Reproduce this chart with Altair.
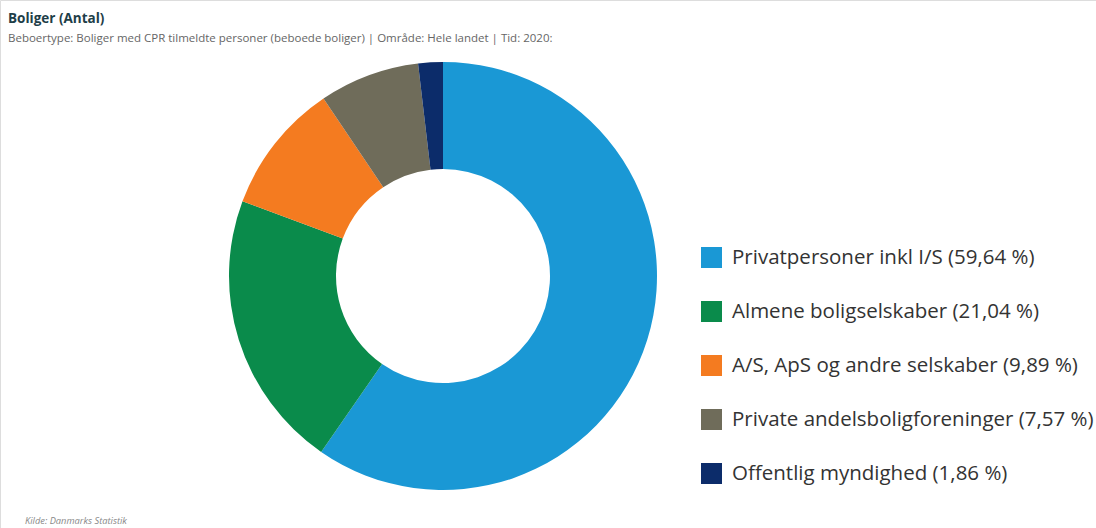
import altair as alt
import pandas as pd

categories = ["Privatpersoner inkl I/S", "Almene boligselskaber", "A/S, ApS og andre selskaber",
              "Private andelsboligforeninger", "Offentlig myndighed"]
percents = [59.64, 21.04, 9.89, 7.57, 1.86]
colors = ["#1A98D5", "#0A8B4B", "#F47B20", "#6F6C5A", "#0C2C6A"]

title = "Boliger (Antal)"
subtitle = "Beboertype: Boliger med CPR tilmeldte personer (beboede boliger) | Område: Hele landet | Tid: 2020:"
source = "Kilde: Danmarks Statistik"

labels = [f"{c} ({p:.2f} %)".replace(".", ",") for c, p in zip(categories, percents)]
df = pd.DataFrame({"label": labels, "value": percents, "order": list(range(len(labels)))})

W, H = 1096, 528
FONT = "Open Sans"

arc = alt.Chart(df).mark_arc(outerRadius=214, innerRadius=107, strokeWidth=0).encode(
    theta=alt.Theta("value:Q", stack=True),
    order=alt.Order("order:Q"),
    color=alt.Color("label:N", sort=labels,
                    scale=alt.Scale(domain=labels, range=colors),
                    legend=alt.Legend(title=None, orient="none", legendX=701, legendY=247,
                                      symbolType="square", symbolSize=441, symbolStrokeWidth=0,
                                      labelFontSize=20.5, labelFont=FONT, labelColor="#333333",
                                      labelLimit=500, rowPadding=33, labelOffset=10)),
    x=alt.value(443),
    y=alt.value(276),
)

t1 = alt.Chart(pd.DataFrame({"t": [title]})).mark_text(
    align="left", baseline="alphabetic", fontSize=13.5, fontWeight="bold", font=FONT, color="#1E3E48"
).encode(x=alt.value(8), y=alt.value(23), text="t:N")

t2 = alt.Chart(pd.DataFrame({"t": [subtitle]})).mark_text(
    align="left", baseline="alphabetic", fontSize=11.5, font=FONT, color="#666666"
).encode(x=alt.value(8), y=alt.value(42), text="t:N")

t3 = alt.Chart(pd.DataFrame({"t": [source]})).mark_text(
    align="left", baseline="alphabetic", fontSize=9.3, fontStyle="italic", font=FONT, color="#888888"
).encode(x=alt.value(25), y=alt.value(524), text="t:N")

chart = alt.layer(arc, t1, t2, t3).properties(
    width=W, height=H, padding=0, autosize=alt.AutoSizeParams(type="none")
).configure_view(stroke=None).configure(background="white")

chart.save("out.html", embed_options={"renderer": "svg", "actions": False})
